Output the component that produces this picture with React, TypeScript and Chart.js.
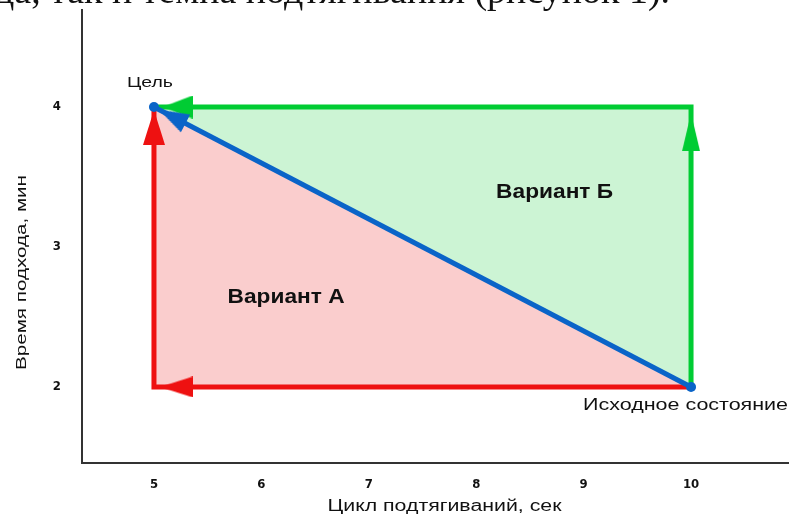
import React, { useEffect, useRef } from 'react';
import { Chart, registerables } from 'chart.js';

Chart.register(...registerables);

// ---- data ----
const xTicks = [5, 6, 7, 8, 9, 10];
const yTicks = [2, 3, 4];
const startPoint = { x: 10, y: 2 };
const goalPoint = { x: 5, y: 4 };
const pathA = [{ x: 10, y: 2 }, { x: 5, y: 2 }, { x: 5, y: 4 }];
const pathB = [{ x: 10, y: 2 }, { x: 10, y: 4 }, { x: 5, y: 4 }];
const pathDirect = [{ x: 10, y: 2 }, { x: 5, y: 4 }];
const arrowsA = [{ x: 5.21, y: 2 }, { x: 5, y: 3.854 }];
const arrowsARotation = [-90, 0];
const arrowsB = [{ x: 5.22, y: 4 }, { x: 10, y: 3.82 }];
const arrowsBRotation = [-90, 0];
const arrowsDirect = [{ x: 5.17, y: 3.932 }];
const arrowsDirectRotation = [-62.5];
const variantLabels = [
  { text: 'Вариант А', x: 6.23, y: 2.64 },
  { text: 'Вариант Б', x: 8.73, y: 3.39 },
];
const goalLabel = 'Цель';
const startLabel = 'Исходное состояние';
const xTitle = 'Цикл подтягиваний, сек';
const yTitle = 'Время подхода, мин';
const topText = 'да, так и темпа подтягивания (рисунок 1).';

const RED = '#ee1111';
const GREEN = '#00cc33';
const BLUE = '#0a64c8';
const PINK_FILL = 'rgb(250,205,205)';
const GREEN_FILL = 'rgb(204,244,212)';

function makeArrow(color: string, w: number, h: number) {
  const c = document.createElement('canvas');
  c.width = w;
  c.height = h;
  const g = c.getContext('2d')!;
  g.fillStyle = color;
  g.beginPath();
  g.moveTo(w / 2, 0);
  g.lineTo(w, h);
  g.lineTo(0, h);
  g.closePath();
  g.fill();
  return c;
}

function fitText(
  ctx: CanvasRenderingContext2D,
  text: string,
  x: number,
  y: number,
  width: number,
  font: string,
  align: CanvasTextAlign,
  baseline: CanvasTextBaseline = 'middle',
  rotate = 0
) {
  ctx.save();
  ctx.font = font;
  const w = ctx.measureText(text).width;
  const sx = width / w;
  ctx.translate(x, y);
  if (rotate) ctx.rotate(rotate);
  ctx.scale(sx, 1);
  ctx.textAlign = align;
  ctx.textBaseline = baseline;
  ctx.fillStyle = '#111';
  ctx.fillText(text, 0, 0);
  ctx.restore();
}

const textPlugin = {
  id: 'texts',
  afterDraw(chart: any) {
    const ctx = chart.ctx as CanvasRenderingContext2D;
    const xs = chart.scales.x;
    const ys = chart.scales.y;
    const area = chart.chartArea;
    const sans = '"Liberation Sans", Arial, sans-serif';
    // top cropped sentence
    fitText(ctx, topText, -5, 3, 675, '37px "Liberation Serif", serif', 'left', 'alphabetic');
    // goal label
    fitText(ctx, goalLabel, xs.getPixelForValue(goalPoint.x) - 4, ys.getPixelForValue(goalPoint.y) - 24, 46, '15px ' + sans, 'center');
    // start label
    fitText(ctx, startLabel, xs.getPixelForValue(startPoint.x) - 108, ys.getPixelForValue(startPoint.y) + 19, 205, '16px ' + sans, 'left');
    // variant labels
    variantLabels.forEach((l) => {
      fitText(ctx, l.text, xs.getPixelForValue(l.x), ys.getPixelForValue(l.y), 117, 'bold 20px ' + sans, 'center');
    });
    // axis titles
    fitText(ctx, xTitle, (area.left + area.right) / 2 + 9, area.bottom + 44, 234, '16px ' + sans, 'center');
    fitText(ctx, yTitle, 22, (area.top + area.bottom) / 2 + 36, 195, '15px ' + sans, 'center', 'middle', -Math.PI / 2);
  },
};

export default function App() {
  const ref = useRef<HTMLCanvasElement>(null);

  useEffect(() => {
    const redUp = makeArrow(RED, 22, 35);
    const redLeft = makeArrow(RED, 21, 33);
    const greenLeft = makeArrow(GREEN, 23, 30);
    const greenUp = makeArrow(GREEN, 18, 38);
    const blueHead = makeArrow(BLUE, 20, 30);

    const tickFont = { family: '"Liberation Sans Narrow", "DejaVu Sans Condensed", sans-serif', size: 13, weight: 'bold' as const };

    const chart = new Chart(ref.current!, {
      type: 'scatter',
      data: {
        datasets: [
          {
            type: 'line',
            data: pathA,
            borderWidth: 0,
            pointRadius: 0,
            backgroundColor: PINK_FILL,
            fill: 'shape',
            tension: 0,
            order: 20,
          } as any,
          {
            type: 'line',
            data: pathB,
            borderWidth: 0,
            pointRadius: 0,
            backgroundColor: GREEN_FILL,
            fill: 'shape',
            tension: 0,
            order: 19,
          } as any,
          {
            type: 'line',
            data: pathA,
            borderColor: RED,
            borderWidth: 5,
            pointRadius: 0,
            fill: false,
            tension: 0,
            order: 10,
          } as any,
          {
            type: 'line',
            data: pathB,
            borderColor: GREEN,
            borderWidth: 5,
            pointRadius: 0,
            fill: false,
            tension: 0,
            order: 9,
          } as any,
          {
            type: 'scatter',
            data: arrowsA,
            pointStyle: [redLeft, redUp],
            rotation: arrowsARotation,
            pointRadius: 10,
            order: 5,
          } as any,
          {
            type: 'scatter',
            data: arrowsB,
            pointStyle: [greenLeft, greenUp],
            rotation: arrowsBRotation,
            pointRadius: 10,
            order: 4,
          } as any,
          {
            type: 'line',
            data: pathDirect,
            borderColor: BLUE,
            borderWidth: 5,
            pointRadius: 5,
            pointBackgroundColor: BLUE,
            pointBorderWidth: 0,
            fill: false,
            tension: 0,
            order: 2,
          } as any,
          {
            type: 'scatter',
            data: arrowsDirect,
            pointStyle: [blueHead],
            rotation: arrowsDirectRotation,
            pointRadius: 10,
            order: 1,
          } as any,
        ],
      },
      options: {
        responsive: false,
        devicePixelRatio: 1,
        animation: false,
        events: [],
        layout: { autoPadding: false, padding: { top: 10, right: 0, left: 0, bottom: 0 } },
        plugins: { legend: { display: false }, tooltip: { enabled: false } },
        scales: {
          x: {
            type: 'linear',
            min: 4.33,
            max: 10.912,
            grid: { display: false, drawTicks: false, tickLength: 0 },
            border: { display: true, color: '#333', width: 2 },
            ticks: { font: tickFont, color: '#111', padding: 14 },
            afterBuildTicks: (s: any) => {
              s.ticks = xTicks.map((v) => ({ value: v }));
            },
            afterFit: (s: any) => {
              s.height = 55;
              s.paddingLeft = 0;
              s.paddingRight = 0;
              s.paddingTop = 0;
              s.paddingBottom = 0;
            },
          },
          y: {
            type: 'linear',
            min: 1.457,
            max: 4.693,
            grid: { display: false, drawTicks: false, tickLength: 0 },
            border: { display: true, color: '#333', width: 2 },
            ticks: { font: tickFont, color: '#111', padding: 21 },
            afterBuildTicks: (s: any) => {
              s.ticks = yTicks.map((v) => ({ value: v }));
            },
            afterFit: (s: any) => {
              s.width = 82;
              s.paddingLeft = 0;
              s.paddingRight = 0;
              s.paddingTop = 0;
              s.paddingBottom = 0;
            },
          },
        },
      } as any,
      plugins: [textPlugin],
    });
    return () => chart.destroy();
  }, []);

  return (
    <div style={{ position: 'absolute', left: 0, top: 0, width: 789, height: 518, background: '#fff', overflow: 'hidden' }}>
      <canvas ref={ref} width={789} height={518} style={{ display: 'block' }} />
    </div>
  );
}
